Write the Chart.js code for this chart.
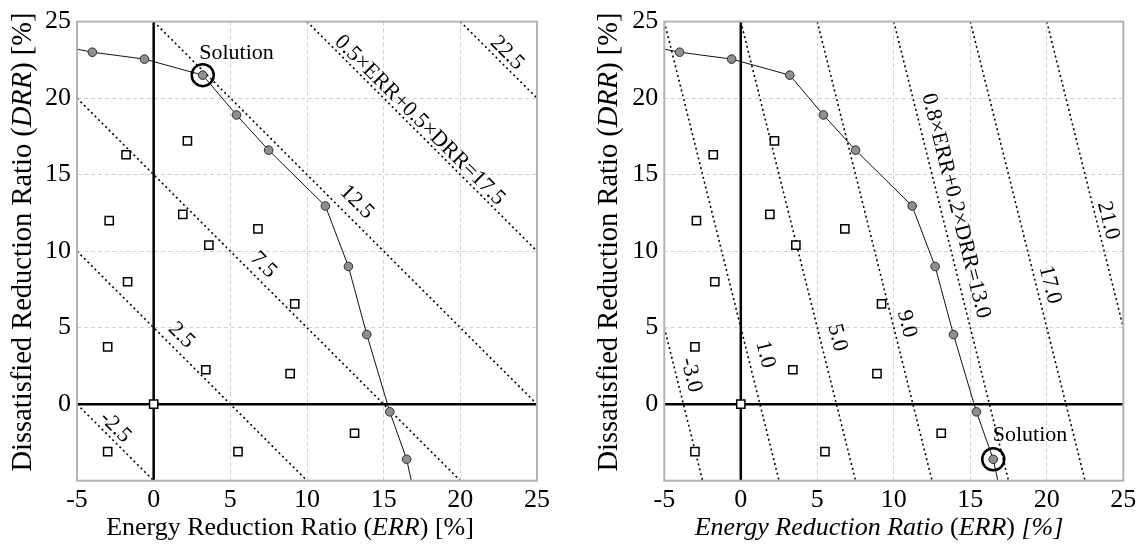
<!DOCTYPE html>
<html>
<head>
<meta charset="utf-8">
<script src="https://cdn.jsdelivr.net/npm/chart.js@4.4.1/dist/chart.umd.min.js"></script>
<style>
  html, body { margin:0; padding:0; background:#fff; }
  #wrap { position:relative; width:1142px; height:547px; }
  canvas { position:absolute; top:0; }
</style>
</head>
<body>
<div id="wrap">
  <canvas id="left" width="571" height="547" style="left:0"></canvas>
  <canvas id="right" width="571" height="547" style="left:571px"></canvas>
</div>
<script>
// ---------------- DATA ----------------
const xTickValues = [-5, 0, 5, 10, 15, 20, 25];
const yTickValues = [-5, 0, 5, 10, 15, 20, 25];
const yTickLabels = ['', '0', '5', '10', '15', '20', '25'];

// Pareto front (grey circles)
const paretoERR = [-4.0, -0.6, 3.2, 5.4, 7.5, 11.2, 12.7, 13.9, 15.4, 16.5];
const paretoDRR = [23.0, 22.55, 21.5, 18.9, 16.6, 12.95, 9.0, 4.55, -0.5, -3.6];
// front polyline continues to the frame at both ends
const frontStartERR = -5.0, frontStartDRR = 23.2;
const frontEndERR = 16.8, frontEndDRR = -5.0;

// Other (dominated) solutions (open squares)
const otherERR = [-1.8, 2.2, -2.9, 1.9, 3.6, 6.8, -1.7, 9.2, -3.0, 3.4, 8.9, 0.0, -3.0, 5.5, 13.1];
const otherDRR = [16.3, 17.2, 12.0, 12.4, 10.4, 11.45, 8.0, 6.55, 3.75, 2.25, 2.0, 0.0, -3.1, -3.1, -1.9];

// Iso-objective lines  wE*ERR + wD*DRR = level
const leftWeights = [0.5, 0.5];
const leftLevels = [-2.5, 2.5, 7.5, 12.5, 17.5, 22.5];
const leftLevelText = ['-2.5', '2.5', '7.5', '12.5', '0.5×ERR+0.5×DRR=17.5', '22.5'];
const leftSolutionIndex = 2;

const rightWeights = [0.8, 0.2];
const rightLevels = [-3.0, 1.0, 5.0, 9.0, 13.0, 17.0, 21.0];
const rightLevelText = ['-3.0', '1.0', '5.0', '9.0', '0.8×ERR+0.2×DRR=13.0', '17.0', '21.0'];
const rightSolutionIndex = 9;

// ---------------- LAYOUT (positions only) ----------------
const leftLabelAt = [[-2.5, -1.5], [1.8, 4.5], [7.15, 9.1], [13.25, 13.2], [17.35, 18.55], [23.05, 22.95]];
const leftSolutionTextAt = [5.4, 22.95];
const rightLabelAt = [[-3.25, 1.9], [1.6, 3.25], [6.3, 4.35], [10.85, 5.25], [14.05, 12.95], [20.2, 7.8], [24.0, 12.0]];
const rightSolutionTextAt = [18.9, -2.0];

const SERIF = '"Liberation Serif", "DejaVu Serif", serif';
const XMIN = -5, XMAX = 25, YMIN = -5, YMAX = 25;

function isoSegment(w, level) {
  const [a, b] = w;
  const pts = [];
  const add = (x, y) => {
    if (x >= XMIN - 1e-9 && x <= XMAX + 1e-9 && y >= YMIN - 1e-9 && y <= YMAX + 1e-9) {
      if (!pts.some(p => Math.abs(p.x - x) < 1e-6 && Math.abs(p.y - y) < 1e-6)) pts.push({x, y});
    }
  };
  add(XMIN, (level - a * XMIN) / b);
  add(XMAX, (level - a * XMAX) / b);
  add((level - b * YMIN) / a, YMIN);
  add((level - b * YMAX) / a, YMAX);
  pts.sort((p, q) => p.x - q.x);
  return [pts[0], pts[pts.length - 1]];
}

function buildDatasets(weights, levels, solIdx) {
  const ds = [];
  ds.push({
    type: 'scatter', data: [{x: paretoERR[solIdx], y: paretoDRR[solIdx]}],
    pointRadius: 11, pointBackgroundColor: 'rgba(0,0,0,0)', pointBorderColor: '#000',
    pointBorderWidth: 2.5, order: 0
  });
  ds.push({
    type: 'scatter', data: paretoERR.map((v, i) => ({x: v, y: paretoDRR[i]})),
    pointRadius: 4.3, pointBackgroundColor: '#8f8f8f', pointBorderColor: '#2a2a2a',
    pointBorderWidth: 1, order: 1
  });
  ds.push({
    type: 'scatter', data: otherERR.map((v, i) => ({x: v, y: otherDRR[i]})),
    pointStyle: 'rect', pointRadius: 5.8, pointBackgroundColor: '#fff', pointBorderColor: '#000',
    pointBorderWidth: 1.5, order: 2
  });
  const line = [{x: frontStartERR, y: frontStartDRR}]
    .concat(paretoERR.map((v, i) => ({x: v, y: paretoDRR[i]})))
    .concat([{x: frontEndERR, y: frontEndDRR}]);
  ds.push({
    type: 'line', data: line, borderColor: '#111', borderWidth: 1, pointRadius: 0,
    fill: false, tension: 0, order: 3
  });
  levels.forEach(lv => {
    ds.push({
      type: 'line', data: isoSegment(weights, lv), borderColor: '#000', borderWidth: 1.6,
      borderDash: [2, 3], pointRadius: 0, fill: false, order: 4
    });
  });
  ds.push({type: 'line', data: [{x: 0, y: YMIN}, {x: 0, y: YMAX}], borderColor: '#000', borderWidth: 2.5, pointRadius: 0, order: 5});
  ds.push({type: 'line', data: [{x: XMIN, y: 0}, {x: XMAX, y: 0}], borderColor: '#000', borderWidth: 2.5, pointRadius: 0, order: 5});
  return ds;
}

function measureMixed(ctx, segs, size) {
  let w = 0;
  segs.forEach(s => { ctx.font = (s[1] ? 'italic ' : '') + size + 'px ' + SERIF; w += ctx.measureText(s[0]).width; });
  return w;
}
function paintMixed(ctx, segs, size, cx, cy, rot) {
  ctx.save();
  ctx.translate(cx, cy);
  ctx.rotate(rot);
  const total = measureMixed(ctx, segs, size);
  let x = -total / 2;
  ctx.fillStyle = '#000';
  ctx.textBaseline = 'middle';
  ctx.textAlign = 'left';
  segs.forEach(s => {
    ctx.font = (s[1] ? 'italic ' : '') + size + 'px ' + SERIF;
    ctx.fillText(s[0], x, 0);
    x += ctx.measureText(s[0]).width;
  });
  ctx.restore();
}

function makeChart(id, cfg) {
  const overlay = {
    id: 'overlay',
    afterDraw(chart) {
      const ctx = chart.ctx, a = chart.chartArea, xs = chart.scales.x, ys = chart.scales.y;
      ctx.save();
      ctx.strokeStyle = '#b4b4b4'; ctx.lineWidth = 2;
      ctx.strokeRect(a.left, a.top, a.right - a.left, a.bottom - a.top);
      ctx.restore();
      const [wa, wb] = cfg.weights;
      const sx = Math.abs(xs.getPixelForValue(1) - xs.getPixelForValue(0));
      const sy = Math.abs(ys.getPixelForValue(1) - ys.getPixelForValue(0));
      const ang = Math.atan2(wa * sy, wb * sx);
      ctx.save();
      ctx.fillStyle = '#000';
      ctx.font = '22px ' + SERIF;
      ctx.textAlign = 'center'; ctx.textBaseline = 'middle';
      cfg.texts.forEach((t, i) => {
        const p = cfg.labelAt[i];
        ctx.save();
        ctx.translate(xs.getPixelForValue(p[0]), ys.getPixelForValue(p[1]));
        ctx.rotate(ang);
        ctx.fillText(t, 0, 0);
        ctx.restore();
      });
      ctx.fillText('Solution', xs.getPixelForValue(cfg.solAt[0]), ys.getPixelForValue(cfg.solAt[1]));
      ctx.restore();
      paintMixed(ctx, cfg.xTitle, 26, cfg.xTitlePos[0], cfg.xTitlePos[1], 0);
      paintMixed(ctx, [['Dissatisfied Reduction Ratio (', false], ['DRR', true], [') [%]', false]], 28.5,
        cfg.yTitlePos[0], cfg.yTitlePos[1], -Math.PI / 2);
    }
  };
  const tickFont = {family: SERIF, size: 26};
  return new Chart(document.getElementById(id), {
    data: {datasets: buildDatasets(cfg.weights, cfg.levels, cfg.sol)},
    options: {
      responsive: false, animation: false,
      layout: {padding: {left: 0, right: cfg.padRight, top: 15, bottom: 0}},
      plugins: {legend: {display: false}, tooltip: {enabled: false}},
      scales: {
        x: {
          type: 'linear', min: XMIN, max: XMAX,
          afterBuildTicks: s => { s.ticks = xTickValues.map(v => ({value: v})); },
          afterFit: s => { s.height = 66.3; },
          ticks: {font: tickFont, color: '#000', padding: 4, maxRotation: 0, autoSkip: false,
                  callback: v => String(v)},
          grid: {color: '#d2d2d2', lineWidth: 1, drawTicks: false},
          border: {display: false, dash: [4, 3]}
        },
        y: {
          type: 'linear', min: YMIN, max: YMAX,
          afterBuildTicks: s => { s.ticks = yTickValues.map(v => ({value: v})); },
          afterFit: s => { s.width = cfg.yWidth; },
          ticks: {font: tickFont, color: '#000', padding: 6, autoSkip: false,
                  callback: v => yTickLabels[yTickValues.indexOf(v)]},
          grid: {color: '#d2d2d2', lineWidth: 1, drawTicks: false},
          border: {display: false, dash: [4, 3]}
        }
      }
    },
    plugins: [overlay]
  });
}

makeChart('left', {
  weights: leftWeights, levels: leftLevels, texts: leftLevelText, labelAt: leftLabelAt,
  sol: leftSolutionIndex, solAt: leftSolutionTextAt,
  padRight: 34, yWidth: 77,
  xTitle: [['Energy Reduction Ratio (', false], ['ERR', true], [') [%]', false]],
  xTitlePos: [290, 528], yTitlePos: [24, 242]
});
makeChart('right', {
  weights: rightWeights, levels: rightLevels, texts: rightLevelText, labelAt: rightLabelAt,
  sol: rightSolutionIndex, solAt: rightSolutionTextAt,
  padRight: 18.7, yWidth: 93.3,
  xTitle: [['Energy Reduction Ratio ', true], ['(', false], ['ERR', true], [')', false], [' [%]', true]],
  xTitlePos: [308, 528], yTitlePos: [39, 242]
});
</script>
</body>
</html>
